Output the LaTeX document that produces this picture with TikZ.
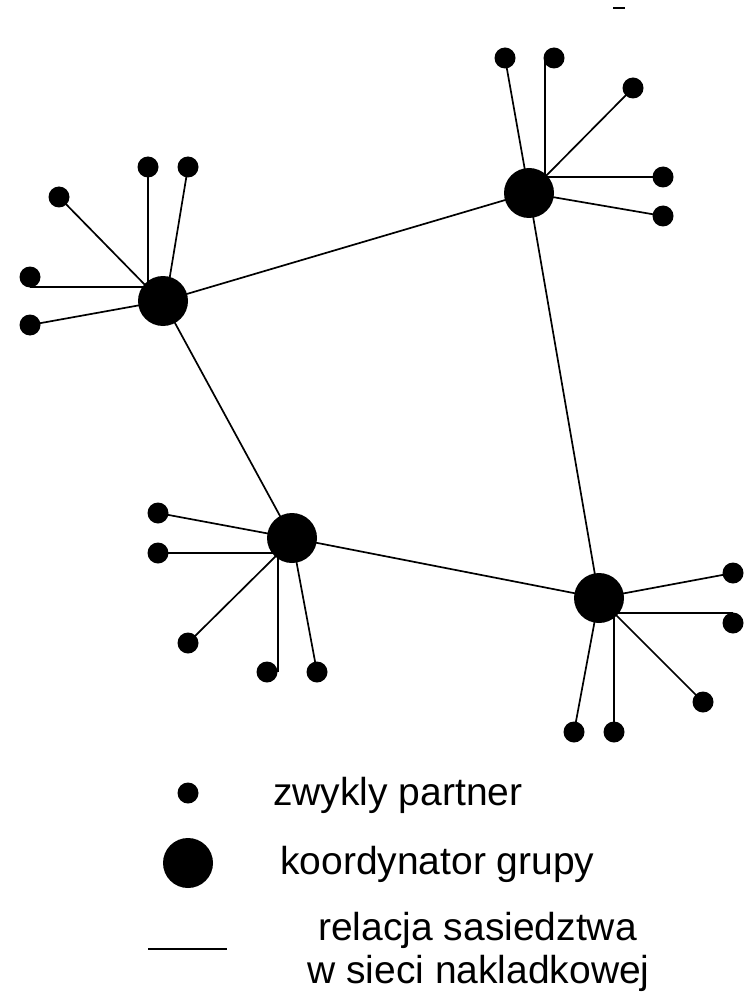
\documentclass[tikz,border=0pt]{standalone}
\usepackage{fontspec}
\setmainfont{Liberation Sans}
\usetikzlibrary{calc}
\begin{document}
\begin{tikzpicture}[x=1pt,y=-1pt,
  hub/.style={circle,fill=black,inner sep=0pt,minimum size=50pt},
  peer/.style={circle,fill=black,inner sep=0pt,minimum size=21pt},
  link/.style={line width=1.7pt,black},
  legtext/.style={anchor=base west,inner sep=0pt,font=\fontsize{39}{47}\selectfont}]
\useasboundingbox (0,0) rectangle (748,992);
% hub positions
\coordinate (A) at (163,301);
\coordinate (B) at (529,193);
\coordinate (C) at (292,538);
\coordinate (D) at (599,598);
% peer positions
\coordinate (a1) at (148,167);
\coordinate (a2) at (188,167);
\coordinate (a3) at (59,197);
\coordinate (a4) at (30,277);
\coordinate (a5) at (30,325);
\coordinate (b1) at (505,58);
\coordinate (b2) at (554,58);
\coordinate (b3) at (633,88);
\coordinate (b4) at (663,177);
\coordinate (b5) at (663,216);
\coordinate (c1) at (158,513);
\coordinate (c2) at (158,553);
\coordinate (c3) at (188,643);
\coordinate (c4) at (267,672);
\coordinate (c5) at (317,672);
\coordinate (d1) at (733,573);
\coordinate (d2) at (733,623);
\coordinate (d3) at (703,702);
\coordinate (d4) at (574,732);
\coordinate (d5) at (614,732);
% overlay links
\draw[link] (A) -- (B) -- (D) -- (C) -- (A);
% cluster A
\draw[link] (a1) -- ++(0,130);
\draw[link] (a2) -- (166,300);
\draw[link] (a3) -- (150,290);
\draw[link] ($(a4)+(0,10)$) -- ++(125,0);
\draw[link] (a5) -- (A);
% cluster B
\draw[link] (b1) -- (B);
\draw[link] ($(b2)+(-9,0)$) -- ++(0,132);
\draw[link] (b3) -- (540,182);
\draw[link] (b4) -- ++(-125,0);
\draw[link] (b5) -- (B);
% cluster C
\draw[link] (c1) -- (C);
\draw[link] (c2) -- ++(125,0);
\draw[link] (c3) -- (282,550);
\draw[link] ($(c4)+(11,0)$) -- ++(0,-130);
\draw[link] (c5) -- (C);
% cluster D
\draw[link] (d1) -- (D);
\draw[link] ($(d2)+(0,-10)$) -- ++(-130,0);
\draw[link] (d3) -- (608,607);
\draw[link] (d4) -- (D);
\draw[link] (d5) -- ++(0,-130);
% nodes
\foreach \h in {A,B,C,D} \node[hub] (n\h) at (\h) {};
\foreach \p in {a1,a2,a3,a4,a5,b1,b2,b3,b4,b5,c1,c2,c3,c4,c5,d1,d2,d3,d4,d5}
  \node[peer] (n\p) at (\p) {};
% stray mark
\coordinate (m1) at (613,8);
\coordinate (m2) at (625,8);
\draw[line width=1.7pt] (m1) -- (m2);
% legend
\node[peer] (lp) at (188,793) {};
\node[hub] (lh) at (188,863) {};
\coordinate (l1) at (148,949);
\coordinate (l2) at (227,949);
\draw[link] (l1) -- (l2);
\node[legtext] (t1) at (273,805) {zwykly partner};
\node[legtext] (t2) at (280,874) {koordynator grupy};
\node[legtext] (t3) at (318,940) {relacja sasiedztwa};
\node[legtext] (t4) at (307,983) {w sieci nakladkowej};
\end{tikzpicture}
\end{document}
